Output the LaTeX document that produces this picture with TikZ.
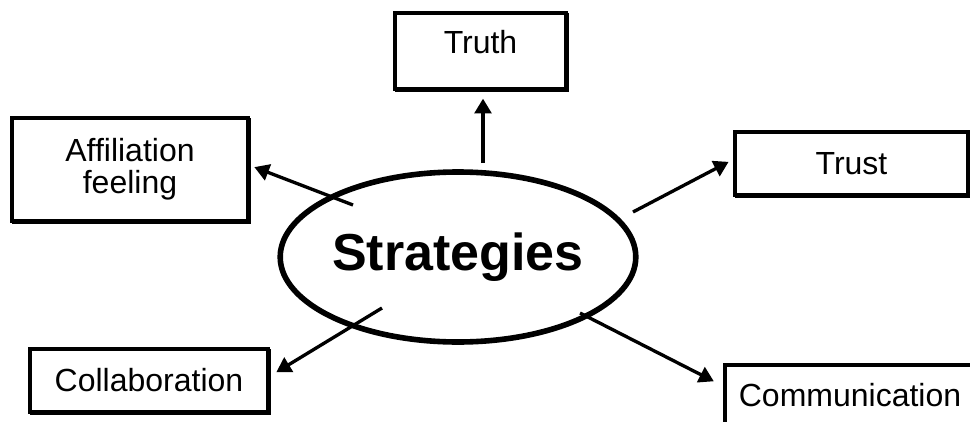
\documentclass[tikz,border=0pt]{standalone}
\usepackage{fontspec}
\setmainfont{Liberation Sans}
\usetikzlibrary{arrows.meta,shapes.geometric}

\tikzset{every picture/.style={line width=0.75pt}}
\tikzset{
	box/.style={draw, line width=2.5pt, fill=white, inner sep=0pt, align=center,
		font=\fontsize{24}{24.3}\selectfont,
		preaction={draw, line width=2.5pt, transform canvas={shift={(1.1pt,-1.1pt)}}}},
	arr/.style={line width=2.5pt, -{Triangle[length=11pt,width=12.5pt]}}
}

\begin{document}
\begin{tikzpicture}[x=0.75pt,y=0.75pt,yscale=-1,xscale=1]
	\useasboundingbox (0,0) rectangle (970,421);
	\clip (0,0) rectangle (970,421);
	
	%Ellipse [id:strat] 
	\node [ellipse, draw, line width=4.2pt, minimum width=235.5pt, minimum height=127.5pt, inner sep=0pt, font=\fontsize{39}{44}\selectfont\bfseries] (strat) at (458,257) {Strategies};
	
	% Boxes
	\node [box, minimum width=128.25pt, text height=30pt, text depth=27pt] (truth) at (480.5,51) {Truth};
	\node [box, minimum width=177pt, minimum height=77.25pt] (aff) at (130,169.5) {Affiliation\\feeling};
	\node [box, minimum width=174.75pt, minimum height=47.25pt] (trust) at (851.5,163.5) {Trust};
	\node [box, minimum width=178.5pt, minimum height=47.25pt] (collab) at (149,380.5) {Collaboration};
	\node [box, minimum width=187.5pt, minimum height=45pt] (comm) at (850,395) {Communication};
	
	% Arrow tails
	\coordinate (truthTail) at (483,163);
	\coordinate (affTail) at (353,205);
	\coordinate (trustTail) at (633,212);
	\coordinate (collabTail) at (382,308);
	\coordinate (commTail) at (580,313);
	
	%Arrows
	\draw [arr, shorten >=6pt] (truthTail) -- (truthTail |- truth.south);
	\draw [arr, shorten >=3.75pt] (affTail) -- (aff.2);
	\draw [arr, shorten >=4pt] (trustTail) -- (trust.178);
	\draw [arr, shorten >=5.8pt] (collabTail) -- (collab.2);
	\draw [arr, shorten >=8pt] (commTail) -- (comm.176);
	
\end{tikzpicture}
\end{document}
